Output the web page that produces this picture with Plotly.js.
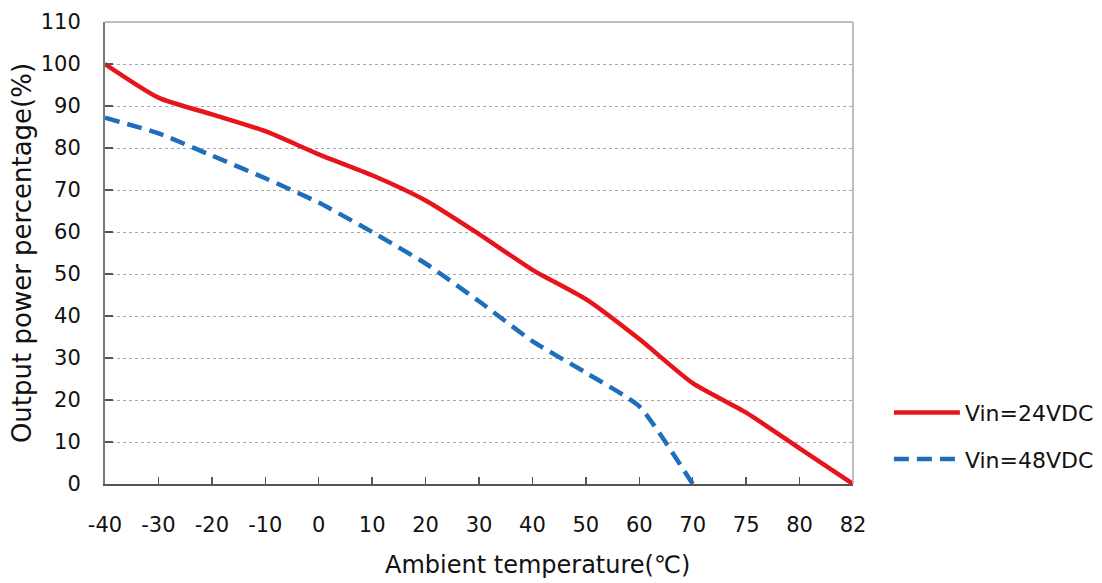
<!DOCTYPE html>
<html>
<head>
<meta charset="utf-8">
<script src="https://cdn.plot.ly/plotly-3.0.1.min.js"></script>
<style>html,body{margin:0;padding:0;background:#fff;}#chart{width:1102px;height:583px;}</style>
</head>
<body>
<div id="chart"></div>
<script>
const temperatures = ["-40","-30","-20","-10","0","10","20","30","40","50","60","70","75","80","82"];
const vin24 = [100, 92, 88, 84, 78.5, 73.5, 67.5, 59.5, 51, 44, 34.5, 24, 17, 8.5, 0];
const temps48 = ["-40","-30","-20","-10","0","10","20","30","40","50","60","70"];
const vin48 = [87.2, 83.5, 78.2, 72.8, 67, 60, 52.5, 43.5, 34, 26.5, 18.5, 0];
const yTicks = [0,10,20,30,40,50,60,70,80,90,100,110];
const xTitle = "Ambient temperature(℃)";
const yTitle = "Output power percentage(%)";

const FONT = "'DejaVu Sans', sans-serif";

const traces = [
  {x: temperatures, y: vin24, name: "Vin=24VDC", type: "scatter", mode: "lines", legendgroup: "a",
   line: {color: "#e8141b", width: 4.5, shape: "spline", smoothing: 0.6}},
  {x: temps48, y: vin48, name: "Vin=48VDC", type: "scatter", mode: "lines", legendgroup: "b",
   line: {color: "#1f6dbd", width: 4.5, dash: "15px,8px", shape: "spline", smoothing: 0.5}}
];

const layout = {
  width: 1102, height: 583,
  margin: {l: 105, r: 249, t: 22, b: 99, autoexpand: false},
  paper_bgcolor: "#fff", plot_bgcolor: "#fff",
  font: {family: FONT, size: 21, color: "#111"},
  showlegend: true,
  legend: {x: 1.048, xanchor: "left", y: 0.2, yanchor: "top", font: {size: 22, color: "#111"},
           itemwidth: 66, tracegroupgap: 15, traceorder: "grouped", bgcolor: "rgba(0,0,0,0)"},
  xaxis: {type: "category", categoryorder: "array", categoryarray: temperatures,
          range: [0, temperatures.length - 1], showgrid: false, zeroline: false,
          showline: true, linecolor: "#555", linewidth: 2,
          ticks: "inside", ticklen: 7, tickwidth: 1.5, tickcolor: "#555",
          ticklabelstandoff: 21, tickfont: {size: 21}},
  yaxis: {range: [0, 110], tickvals: yTicks, showgrid: true, gridcolor: "#aaa", griddash: "dot", gridwidth: 1,
          zeroline: false, showline: true, linecolor: "#777", linewidth: 2,
          ticks: "inside", ticklen: 8, tickwidth: 1.5, tickcolor: "#555",
          ticklabelstandoff: 18, tickfont: {size: 21},
          title: {text: yTitle, font: {size: 26}, standoff: 2}},
  annotations: [
    {text: xTitle, xref: "paper", yref: "paper", x: 0.578, y: -0.176, xanchor: "center", yanchor: "middle",
     showarrow: false, font: {size: 24, color: "#111"}}
  ],
  shapes: [
    {type: "line", xref: "paper", yref: "paper", x0: 0, x1: 1, y0: 1, y1: 1, line: {color: "#aaa", width: 1.5}},
    {type: "line", xref: "paper", yref: "paper", x0: 1, x1: 1, y0: 0, y1: 1, line: {color: "#aaa", width: 1.5}}
  ]
};
Plotly.newPlot("chart", traces, layout, {displayModeBar: false, staticPlot: true});
</script>
</body>
</html>
